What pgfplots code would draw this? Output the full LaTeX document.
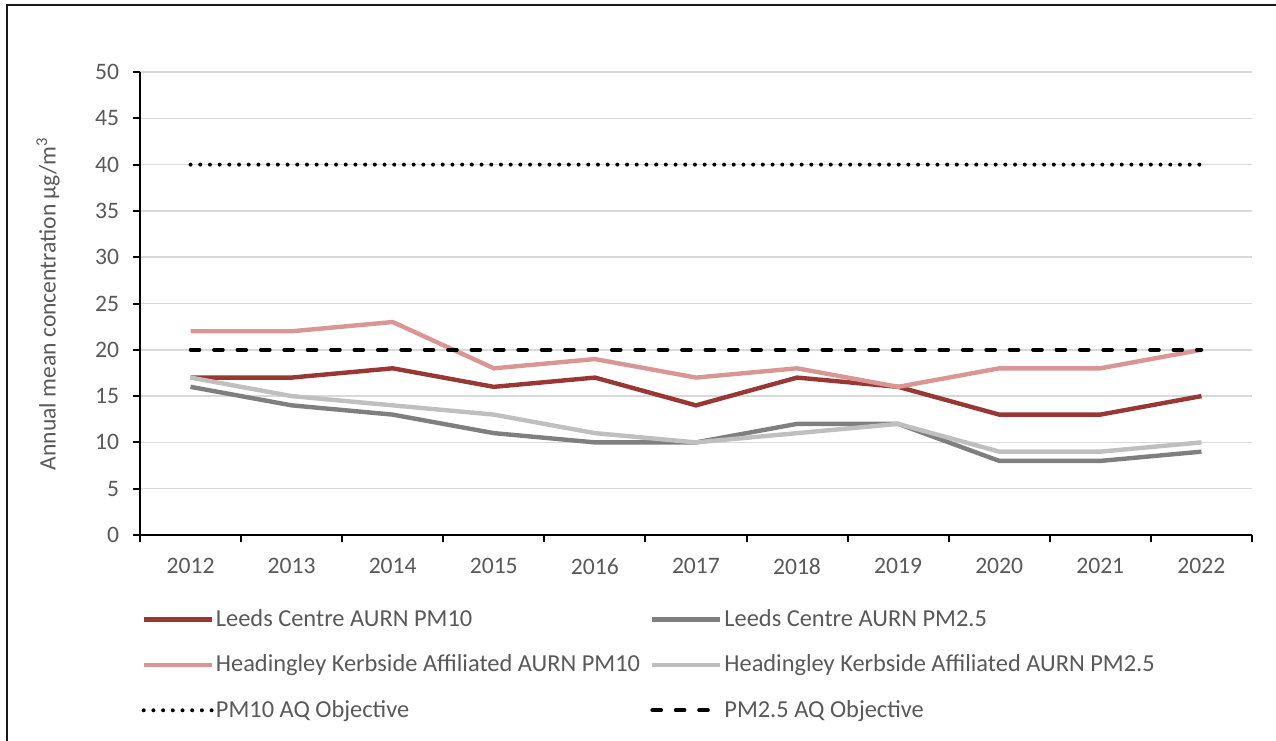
\documentclass[border=0pt]{standalone}
\usepackage{pgfplots}
\pgfplotsset{compat=1.18}
\usepackage{fontspec}
\setmainfont{Carlito}
\definecolor{cLeeds10}{HTML}{993735}
\definecolor{cHead10}{HTML}{DA9694}
\definecolor{cLeeds25}{HTML}{7F7F7F}
\definecolor{cHead25}{HTML}{BFBFBF}
\definecolor{cGrid}{HTML}{D9D9D9}
\definecolor{cText}{HTML}{595959}
\begin{document}
\begin{tikzpicture}
\useasboundingbox (0,0) rectangle (638pt,370pt);
\draw[line width=1pt, black!90] (3.5pt,-20pt) rectangle (700pt,367.5pt);
\begin{axis}[
  at={(70pt,102.5pt)}, anchor=south west,
  scale only axis, width=556pt, height=231.5pt,
  xmin=2011.5, xmax=2022.5, ymin=0, ymax=50,
  axis x line=bottom, axis y line=left,
  axis line style={-, line width=1pt, black},
  xtick={2012,...,2022},
  xticklabels={2012,2013,2014,2015,2016,2017,2018,2019,2020,2021,2022},
  minor xtick={2011.5,2012.5,...,2022.5},
  major x tick style={draw=none},
  minor x tick style={line width=1pt, black},
  ytick={0,5,...,50},
  y tick style={line width=1pt, black},
  tick align=outside,
  major tick length=3.5pt, minor tick length=3.5pt,
  ymajorgrids, grid style={cGrid, line width=0.75pt},
  ticklabel style={text=cText, font=\fontsize{11.8}{13}\selectfont},
  /pgf/number format/assume math mode=true,
  yticklabel style={xshift=-3.5pt},
  xticklabel style={yshift=-4.5pt},
  ylabel={Annual mean concentration µg/m\textsuperscript{3}},
  every axis y label/.style={at={(axis description cs:-0.0827,0.5)}, rotate=90, anchor=center, text=cText, font=\fontsize{11.8}{14}\selectfont},
  legend columns=2,
  legend cell align=left,
  legend style={at={(axis description cs:0.001,-0.156)}, anchor=north west, draw=none, fill=none,
    inner sep=0pt, row sep=10.7pt, font=\fontsize{12.2}{14}\selectfont, text=cText,
    nodes={inner sep=1pt},
    /tikz/every even column/.append style={column sep=4pt}},
  legend image code/.code={\draw[#1] (0pt,0pt) -- (34pt,0pt);},
]
\addplot[cLeeds10, line width=2.2pt] coordinates {(2012,17)(2013,17)(2014,18)(2015,16)(2016,17)(2017,14)(2018,17)(2019,16)(2020,13)(2021,13)(2022,15)};
\addlegendentry{Leeds Centre AURN PM10}
\addplot[cLeeds25, line width=2.2pt] coordinates {(2012,16)(2013,14)(2014,13)(2015,11)(2016,10)(2017,10)(2018,12)(2019,12)(2020,8)(2021,8)(2022,9)};
\addlegendentry{Leeds Centre AURN PM2.5}
\addplot[cHead10, line width=2.2pt] coordinates {(2012,22)(2013,22)(2014,23)(2015,18)(2016,19)(2017,17)(2018,18)(2019,16)(2020,18)(2021,18)(2022,20)};
\addlegendentry{Headingley Kerbside Affiliated AURN PM10}
\addplot[cHead25, line width=2.2pt] coordinates {(2012,17)(2013,15)(2014,14)(2015,13)(2016,11)(2017,10)(2018,11)(2019,12)(2020,9)(2021,9)(2022,10)};
\addlegendentry{Headingley Kerbside Affiliated AURN PM2.5}
\addplot[black, line width=2pt, line cap=round, dash pattern=on 0pt off 4.85pt] coordinates {(2012,40)(2013,40)(2014,40)(2015,40)(2016,40)(2017,40)(2018,40)(2019,40)(2020,40)(2021,40)(2022,40)};
\addlegendentry{PM10 AQ Objective}
\addplot[black, line width=1.8pt, line cap=round, dash pattern=on 4.5pt off 7.2pt] coordinates {(2012,20)(2013,20)(2014,20)(2015,20)(2016,20)(2017,20)(2018,20)(2019,20)(2020,20)(2021,20)(2022,20)};
\addlegendentry{PM2.5 AQ Objective}
\end{axis}
\end{tikzpicture}
\end{document}
